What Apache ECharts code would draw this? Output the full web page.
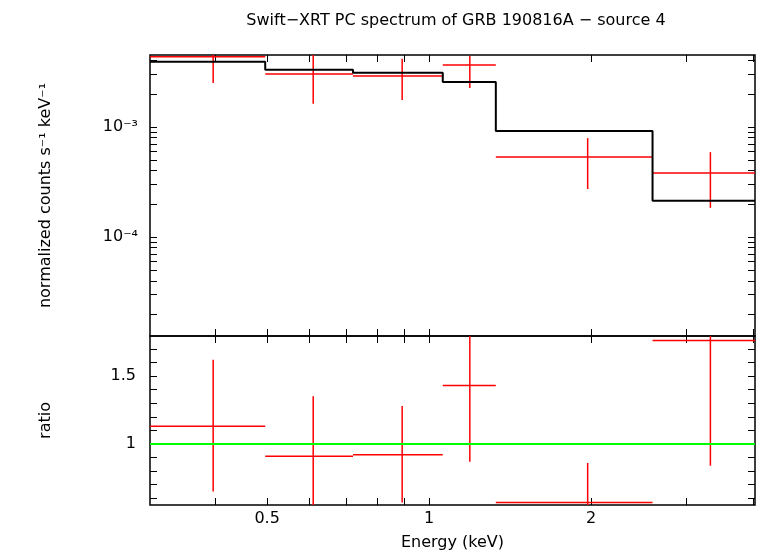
<!DOCTYPE html>
<html><head><meta charset="utf-8">
<script src="https://cdn.jsdelivr.net/npm/echarts@6/dist/echarts.min.js"></script>
<style>html,body{margin:0;padding:0;background:#fff}#c{width:758px;height:556px}</style>
</head><body><div id="c"></div>
<script>
// Spectrum data: [eLo, eHi, eCenter, value, errLo, errHi]
const specLo = [0.303, 0.496, 0.722, 1.06, 1.33, 2.6];
const specHi = [0.496, 0.722, 1.06, 1.33, 2.6, 4.03];
const specC = [0.397, 0.609, 0.891, 1.19, 1.97, 3.33];
const specY = [4.33e-3, 3.03e-3, 2.9e-3, 3.66e-3, 5.33e-4, 3.82e-4];
const specYlo = [2.51e-3, 1.62e-3, 1.76e-3, 2.26e-3, 2.73e-4, 1.84e-4];
const specYhi = [6.0e-3, 5.7e-3, 4.15e-3, 4.4e-3, 7.9e-4, 5.9e-4];
// Model step
const modelEdges = [0.303, 0.496, 0.722, 1.06, 1.33, 2.6, 4.03];
const modelY = [3.9e-3, 3.3e-3, 3.1e-3, 2.56e-3, 9.2e-4, 2.13e-4];
// Ratio
const ratioY = [1.13, 0.91, 0.92, 1.43, 0.57, 1.76];
const ratioLo = [0.65, 0.50, 0.57, 0.87, 0.40, 0.84];
const ratioHi = [1.62, 1.35, 1.28, 1.90, 0.86, 1.90];
// Tick labels
const xLabels = [0.5, 1, 2];
const xTicks = [0.4,0.5,0.6,0.7,0.8,0.9,1,2,3,4];
const yTopLabels = [1e-4, 1e-3];
const yTopTicks = [2e-5,3e-5,4e-5,5e-5,6e-5,7e-5,8e-5,9e-5,1e-4,2e-4,3e-4,4e-4,5e-4,6e-4,7e-4,8e-4,9e-4,1e-3,2e-3,3e-3,4e-3];
const yBotLabels = [1, 1.5];
const yBotTicks = [0.6,0.7,0.8,0.9,1,1.1,1.2,1.3,1.4,1.5,1.6,1.7];

const FF = 'DejaVu Sans';
const chart = echarts.init(document.getElementById('c'), null, {renderer:'canvas'});
const sup = {'0':'⁰','1':'¹','2':'²','3':'³','4':'⁴','5':'⁵','6':'⁶','7':'⁷','8':'⁸','9':'⁹'};
function pow10(v){const e=Math.round(Math.log10(v));return '10'+(e<0?'⁻':'')+String(Math.abs(e)).split('').map(c=>sup[c]).join('');}

const specData = specY.map((y,i)=>[specLo[i],specHi[i],specC[i],y,specYlo[i],specYhi[i]]);
const ratioData = ratioY.map((y,i)=>[specLo[i],specHi[i],specC[i],y,ratioLo[i],ratioHi[i]]);
const modelData = modelEdges.map((e,i)=>[e, modelY[Math.min(i, modelY.length-1)]]);

function crossRender(params, api){
  const a=api.coord([api.value(0),api.value(3)]), b=api.coord([api.value(1),api.value(3)]);
  const c=api.coord([api.value(2),api.value(4)]), d=api.coord([api.value(2),api.value(5)]);
  const st={stroke:'#ff0000',lineWidth:1.5};
  return {type:'group',children:[
    {type:'line',shape:{x1:a[0],y1:a[1],x2:b[0],y2:b[1]},style:st},
    {type:'line',shape:{x1:c[0],y1:c[1],x2:d[0],y2:d[1]},style:st}]};
}
const tickBase={inside:true,length:7,lineStyle:{color:'#000'}};
const xAxisCommon = {type:'log', logBase:10, min:0.303, max:4.03, axisLine:{show:false}, splitLine:{show:false},
  axisTick:Object.assign({customValues:xTicks},tickBase)};
function yTopAxis(pos, show){return {type:'log', gridIndex:0, position:pos, min:1.26e-5, max:4.5e-3, axisLine:{show:false}, splitLine:{show:false},
  axisTick:Object.assign({customValues:yTopTicks},tickBase),
  axisLabel:{show:show, customValues:yTopLabels, formatter:v=>pow10(v), fontFamily:FF, fontSize:16, color:'#000', margin:12},
  name: show?'normalized counts s⁻¹ keV⁻¹':'', nameLocation:'middle', nameGap:96, nameTextStyle:{fontFamily:FF,fontSize:16,color:'#000'}};}
function yBotAxis(pos, show){return {type:'value', gridIndex:1, position:pos, min:0.551, max:1.794, axisLine:{show:false}, splitLine:{show:false},
  axisTick:Object.assign({customValues:yBotTicks},tickBase),
  axisLabel:{show:show, customValues:yBotLabels, fontFamily:FF, fontSize:16, color:'#000', margin:14},
  name: show?'ratio':'', nameLocation:'middle', nameGap:96, nameTextStyle:{fontFamily:FF,fontSize:16,color:'#000'}};}

chart.setOption({
  animation:false,
  title:{text:'Swift−XRT PC spectrum of GRB 190816A − source 4', left:451, top:8, textAlign:'center',
    textStyle:{fontFamily:FF, fontSize:16, fontWeight:'normal', color:'#000'}},
  grid:[{left:150,right:3,top:55,height:281,show:true,borderColor:'#000',borderWidth:1.5},
        {left:150,right:3,top:336,height:169,show:true,borderColor:'#000',borderWidth:1.5}],
  xAxis:[
    Object.assign({gridIndex:0, position:'bottom', axisLabel:{show:false}}, xAxisCommon),
    Object.assign({gridIndex:0, position:'top', axisLabel:{show:false}}, xAxisCommon),
    Object.assign({gridIndex:1, position:'bottom', axisLabel:{customValues:xLabels, fontFamily:FF, fontSize:16, color:'#000', margin:6},
      name:'Energy (keV)', nameLocation:'middle', nameGap:30, nameTextStyle:{fontFamily:FF,fontSize:16,color:'#000'}}, xAxisCommon),
    Object.assign({gridIndex:1, position:'top', axisLabel:{show:false}}, xAxisCommon)
  ],
  yAxis:[yTopAxis('left',true), yTopAxis('right',false), yBotAxis('left',true), yBotAxis('right',false)],
  series:[
    {type:'line', xAxisIndex:0, yAxisIndex:0, step:'end', data:modelData, symbol:'none', lineStyle:{color:'#000',width:2}},
    {type:'custom', xAxisIndex:0, yAxisIndex:0, data:specData, renderItem:crossRender, clip:true},
    {type:'line', xAxisIndex:2, yAxisIndex:2, data:[[0.303,1],[4.03,1]], symbol:'none', lineStyle:{color:'#00ff00',width:2}},
    {type:'custom', xAxisIndex:2, yAxisIndex:2, data:ratioData, renderItem:crossRender, clip:true}
  ]
});
</script></body></html>
